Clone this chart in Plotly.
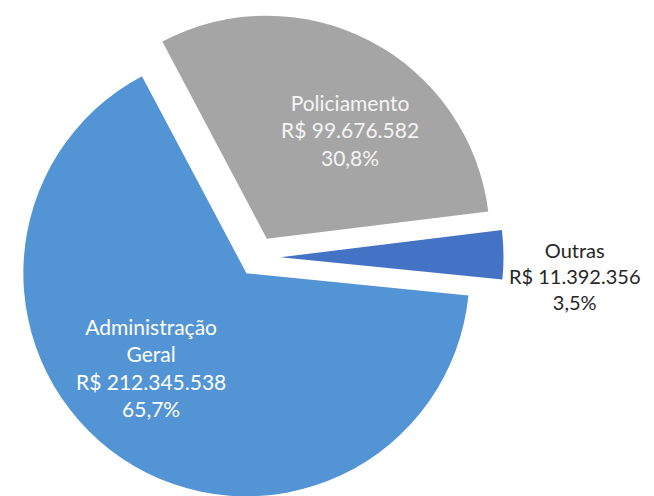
import plotly.graph_objects as go

categories = ["Administração Geral", "Policiamento", "Outras"]
display_labels = ["Administração<br>Geral", "Policiamento", "Outras"]
values = [212345538, 99676582, 11392356]
colors = ["#5394D4", "#A5A5A5", "#4472C4"]
pulls = [0.085, 0.095, 0.105]
text_colors = ["#FFFFFF", "#F4F4F4", "#262626"]
text_sizes = [21, 21, 20]
# label anchor points (paper fractions)
label_x = [0.2187, 0.523, 0.867]
label_y = [0.2759, 0.7586, 0.4625]

fig = go.Figure(
    go.Pie(
        labels=categories,
        values=values,
        textinfo="none",
        marker=dict(colors=colors, line=dict(width=0)),
        pull=pulls,
        sort=False,
        direction="clockwise",
        rotation=95.7,
        domain=dict(x=[0, 0.7615], y=[0, 1]),
        hoverinfo="label+value+percent",
    )
)

total = sum(values)
for i in range(len(values)):
    pct = f"{values[i] / total * 100:.1f}".replace(".", ",")
    val = f"{values[i]:,}".replace(",", ".")
    fig.add_annotation(
        x=label_x[i], y=label_y[i], xref="paper", yref="paper",
        xanchor="center", yanchor="middle",
        text=f"{display_labels[i]}<br>R$ {val}<br>{pct}%",
        showarrow=False, align="center",
        font=dict(family="Lato", size=text_sizes[i], color=text_colors[i]),
    )

fig.update_layout(
    width=654,
    height=496,
    margin=dict(l=0, r=0, t=3, b=0),
    showlegend=False,
    paper_bgcolor="white",
    plot_bgcolor="white",
)

fig.write_html("out.html")
